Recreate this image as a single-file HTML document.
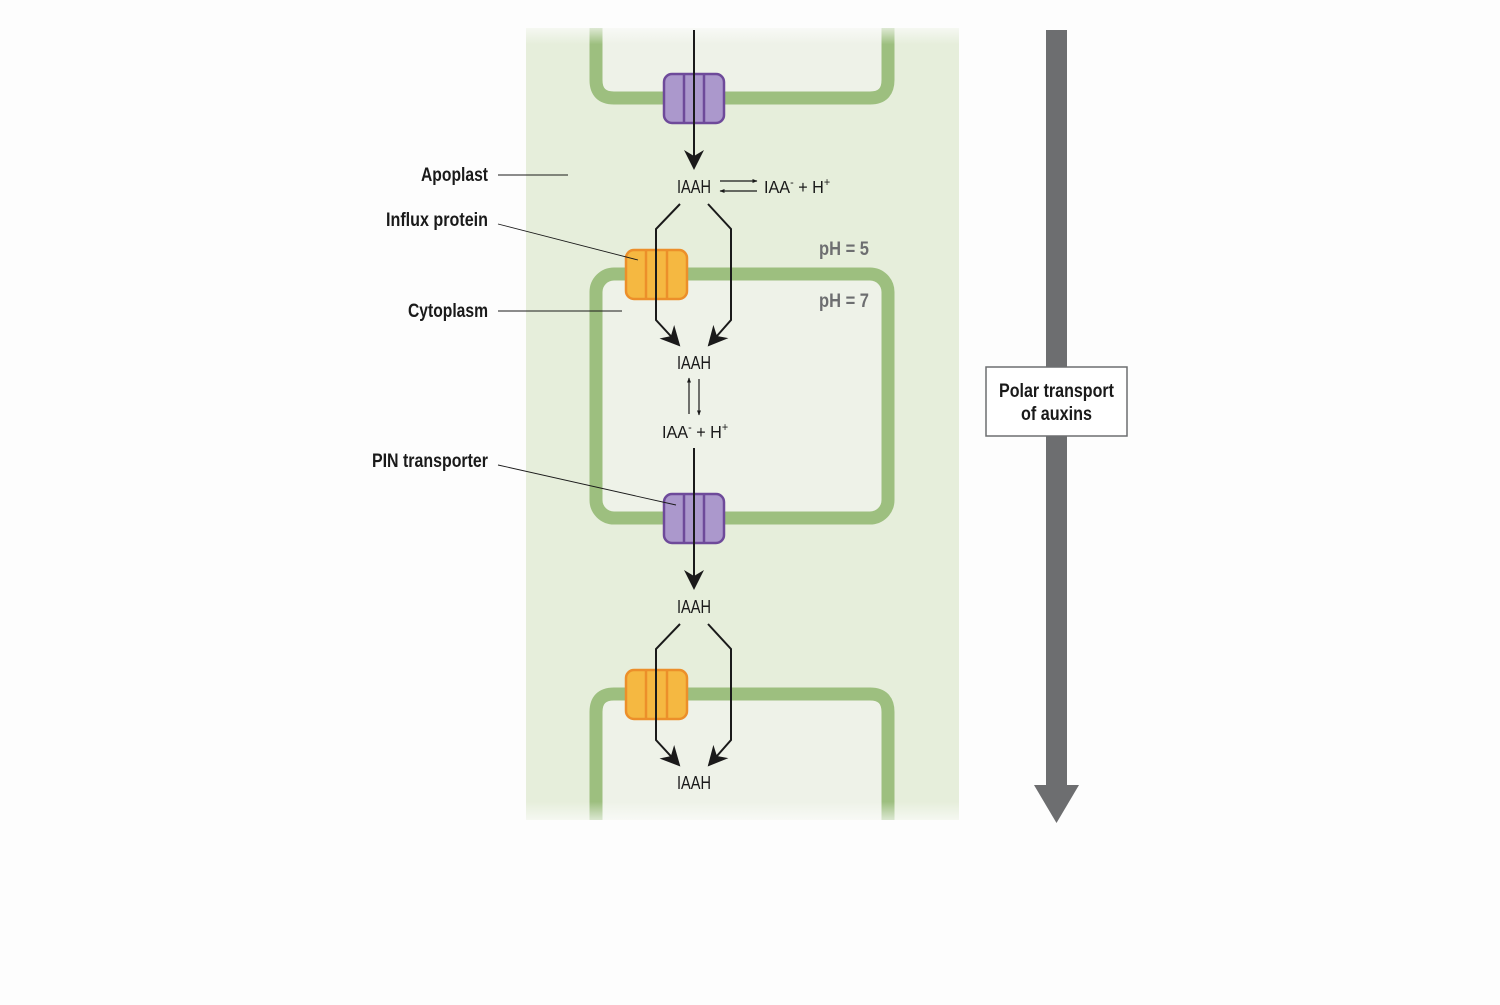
<!DOCTYPE html>
<html><head><meta charset="utf-8"><style>
html,body{margin:0;padding:0;background:#fdfdfd;}
svg text{font-family:"Liberation Sans Narrow","Liberation Sans",sans-serif;}
</style></head><body>
<svg width="1500" height="1000" viewBox="0 0 1500 1000" xmlns="http://www.w3.org/2000/svg">
<defs>
<linearGradient id="fade" x1="0" y1="0" x2="0" y2="1">
<stop offset="0" stop-color="#fdfdfd" stop-opacity="1"/>
<stop offset="0.03" stop-color="#fdfdfd" stop-opacity="0"/>
<stop offset="0.965" stop-color="#fdfdfd" stop-opacity="0"/>
<stop offset="1" stop-color="#fdfdfd" stop-opacity="1"/>
</linearGradient>
<marker id="big" viewBox="0 0 10 10" refX="9" refY="5" markerWidth="20" markerHeight="20" markerUnits="userSpaceOnUse" orient="auto"><path d="M0,0 L10,5 L0,10 L3,5z" fill="#1a1a1a"/></marker>
<marker id="sm" viewBox="0 0 10 10" refX="9" refY="5" markerWidth="5" markerHeight="5" markerUnits="userSpaceOnUse" orient="auto"><path d="M0,1 L10,5 L0,9z" fill="#1a1a1a"/></marker>
</defs>
<rect x="526" y="28" width="433" height="792" fill="#e6eedb"/>
<path d="M596,28 V80 Q596,98 614,98 H870 Q888,98 888,80 V28 Z" fill="#eef2e8"/>
<path d="M596,28 V80 Q596,98 614,98 H870 Q888,98 888,80 V28" fill="none" stroke="#9dbf7f" stroke-width="13"/>
<rect x="596" y="274" width="292" height="244" rx="18" fill="#eef2e8" stroke="#9dbf7f" stroke-width="13"/>
<path d="M596,820 V712 Q596,694 614,694 H870 Q888,694 888,712 V820 Z" fill="#eef2e8"/>
<path d="M596,820 V712 Q596,694 614,694 H870 Q888,694 888,712 V820" fill="none" stroke="#9dbf7f" stroke-width="13"/>
<rect x="500" y="20" width="480" height="810" fill="url(#fade)"/>
<g fill="#ab98cc" stroke="#6e4a9a" stroke-width="2.5">
<rect x="664" y="74" width="60" height="49" rx="8"/><line x1="684" y1="74" x2="684" y2="123"/><line x1="704" y1="74" x2="704" y2="123"/>
<rect x="664" y="494" width="60" height="49" rx="8"/><line x1="684" y1="494" x2="684" y2="543"/><line x1="704" y1="494" x2="704" y2="543"/>
</g>
<g fill="#f5b841" stroke="#ec8f2a" stroke-width="2.5">
<rect x="626" y="250" width="61" height="49" rx="8"/><line x1="646" y1="250" x2="646" y2="299"/><line x1="667" y1="250" x2="667" y2="299"/>
<rect x="626" y="670" width="61" height="49" rx="8"/><line x1="646" y1="670" x2="646" y2="719"/><line x1="667" y1="670" x2="667" y2="719"/>
</g>
<g stroke="#1a1a1a" stroke-width="2" fill="none">
<line x1="694" y1="30" x2="694" y2="168" marker-end="url(#big)"/>
<line x1="694" y1="448" x2="694" y2="588" marker-end="url(#big)"/>
<path d="M680,204 L656,229 V320 L679,345" marker-end="url(#big)"/>
<path d="M708,204 L731,229 V320 L709,345" marker-end="url(#big)"/>
<path d="M680,624 L656,649 V740 L679,765" marker-end="url(#big)"/>
<path d="M708,624 L731,649 V740 L709,765" marker-end="url(#big)"/>
</g>
<g stroke="#1a1a1a" stroke-width="1.2">
<line x1="720" y1="181" x2="757" y2="181" marker-end="url(#sm)"/>
<line x1="757" y1="191" x2="720" y2="191" marker-end="url(#sm)"/>
<line x1="689" y1="414" x2="689" y2="378" marker-end="url(#sm)"/>
<line x1="699" y1="379" x2="699" y2="415" marker-end="url(#sm)"/>
</g>
<g stroke="#1a1a1a" stroke-width="0.9">
<line x1="498" y1="175" x2="568" y2="175"/>
<line x1="498" y1="224" x2="638" y2="260"/>
<line x1="498" y1="311" x2="622" y2="311"/>
<line x1="498" y1="465" x2="676" y2="505"/>
</g>
<g font-size="18" fill="#1a1a1a">
<text x="677" y="193" textLength="34" lengthAdjust="spacingAndGlyphs">IAAH</text>
<text x="677" y="369" textLength="34" lengthAdjust="spacingAndGlyphs">IAAH</text>
<text x="677" y="613" textLength="34" lengthAdjust="spacingAndGlyphs">IAAH</text>
<text x="677" y="789" textLength="34" lengthAdjust="spacingAndGlyphs">IAAH</text>
</g>
<g transform="translate(764,193) scale(0.9,1)"><text x="0" y="0" font-size="18" fill="#1a1a1a">IAA<tspan font-size="12" dy="-7">-</tspan><tspan dy="7"> + H</tspan><tspan font-size="12" dy="-7">+</tspan></text></g>
<g transform="translate(662,438) scale(0.9,1)"><text x="0" y="0" font-size="18" fill="#1a1a1a">IAA<tspan font-size="12" dy="-7">-</tspan><tspan dy="7"> + H</tspan><tspan font-size="12" dy="-7">+</tspan></text></g>
<g font-size="19" font-weight="bold" fill="#6d6e70">
<text x="819" y="255" textLength="50" lengthAdjust="spacingAndGlyphs">pH = 5</text>
<text x="819" y="307" textLength="50" lengthAdjust="spacingAndGlyphs">pH = 7</text>
</g>
<g font-size="19" font-weight="bold" fill="#1a1a1a">
<text x="421" y="181" textLength="67" lengthAdjust="spacingAndGlyphs">Apoplast</text>
<text x="386" y="226" textLength="102" lengthAdjust="spacingAndGlyphs">Influx protein</text>
<text x="408" y="317" textLength="80" lengthAdjust="spacingAndGlyphs">Cytoplasm</text>
<text x="372" y="467" textLength="116" lengthAdjust="spacingAndGlyphs">PIN transporter</text>
</g>
<rect x="1046" y="30" width="21" height="757" fill="#6d6e70"/>
<path d="M1034,785 L1079,785 L1056.5,823z" fill="#6d6e70"/>
<rect x="986" y="367" width="141" height="69" fill="#fff" stroke="#6d6e70" stroke-width="1.5"/>
<g font-size="19" font-weight="bold" fill="#1a1a1a">
<text x="999" y="397" textLength="115" lengthAdjust="spacingAndGlyphs">Polar transport</text>
<text x="1021" y="420" textLength="71" lengthAdjust="spacingAndGlyphs">of auxins</text>
</g>
</svg>
</body></html>
